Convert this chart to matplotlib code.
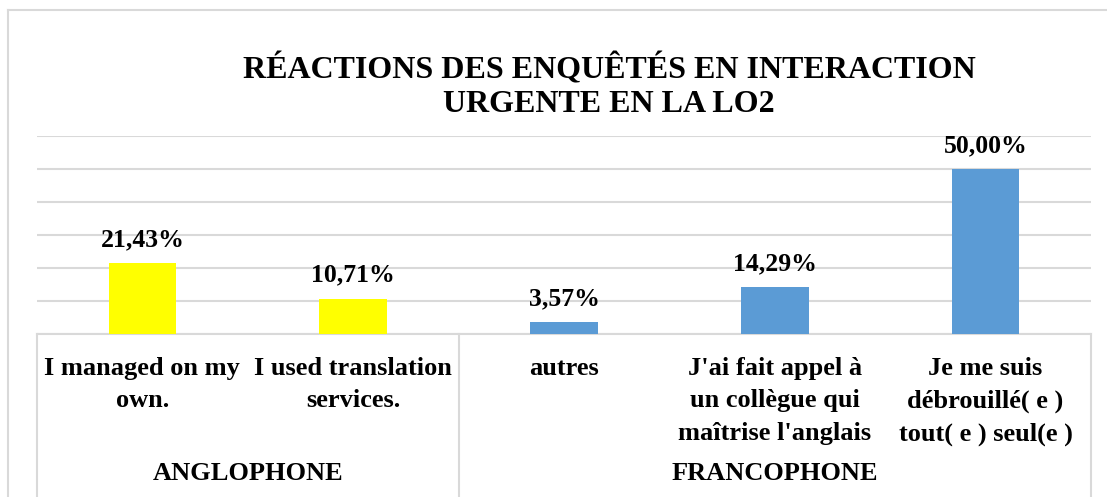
import matplotlib
matplotlib.use("Agg")
import matplotlib.pyplot as plt
from matplotlib.lines import Line2D

plt.rcParams['font.family'] = ['Liberation Serif', 'DejaVu Serif']

categories = ["I managed on my\nown.", "I used translation\nservices.", "autres",
              "J'ai fait appel à\nun collègue qui\nmaîtrise l'anglais",
              "Je me suis\ndébrouillé( e )\ntout( e ) seul(e )"]
groups = ["ANGLOPHONE", "FRANCOPHONE"]
group_sizes = [2, 3]
values = [0.2143, 0.1071, 0.0357, 0.1429, 0.5000]
value_labels = ["21,43%", "10,71%", "3,57%", "14,29%", "50,00%"]
colors = ["#FFFF00", "#FFFF00", "#5B9BD5", "#5B9BD5", "#5B9BD5"]
yticks = [0, 0.1, 0.2, 0.3, 0.4, 0.5, 0.6]

W, H = 1107, 497
fig = plt.figure(figsize=(W / 100, H / 100), dpi=100)

left_px, right_px, top_px, base_px = 37, 1091, 136, 334
ax = fig.add_axes([left_px / W, (H - base_px) / H, (right_px - left_px) / W, (base_px - top_px) / H])
ah = base_px - top_px

x = list(range(len(values)))
ax.bar(x, values, width=0.32, color=colors, zorder=3)
ax.set_xlim(-0.5, len(values) - 0.5)
ax.set_ylim(0, 0.6)
ax.set_yticks(yticks)
ax.grid(axis='y', color='#D9D9D9', linewidth=1.5, zorder=0)
ax.tick_params(left=False, bottom=False, labelleft=False, labelbottom=False)
for s in ['top', 'right', 'left']:
    ax.spines[s].set_visible(False)
ax.spines['bottom'].set_color('#D9D9D9')
ax.spines['bottom'].set_linewidth(1.5)

for xi, v, lab in zip(x, values, value_labels):
    ax.annotate(lab, (xi, v), xytext=(0, 12), textcoords='offset pixels',
                ha='center', va='bottom', fontsize=18.5, fontweight='bold')

tr = ax.get_xaxis_transform()
for xi, c in zip(x, categories):
    ax.text(xi, (base_px - 357) / ah, c, transform=tr, ha='center', va='top',
            fontsize=19, fontweight='bold', linespacing=1.52, clip_on=False)

start = 0
bounds = [-0.5]
for g, n in zip(groups, group_sizes):
    center = start + (n - 1) / 2
    ax.text(center, (base_px - 474) / ah, g, transform=tr, ha='center', va='center',
            fontsize=19, fontweight='bold', clip_on=False)
    start += n
    bounds.append(start - 0.5)

for b in bounds:
    ax.add_line(Line2D([b, b], [0, -(H - base_px + 5) / ah], transform=tr,
                       color='#D9D9D9', linewidth=1.5, clip_on=False))

fig.text(609 / W, 1 - 86 / H, "RÉACTIONS DES ENQUÊTÉS EN INTERACTION\nURGENTE EN LA LO2",
         ha='center', va='center', fontsize=23, fontweight='bold', linespacing=1.2)

# outer chart border (left and top)
fig.add_artist(Line2D([8 / W, 8 / W], [0, 1 - 10 / H], transform=fig.transFigure,
                      color='#D9D9D9', linewidth=1.5))
fig.add_artist(Line2D([8 / W, 1], [1 - 10 / H, 1 - 10 / H], transform=fig.transFigure,
                      color='#D9D9D9', linewidth=1.5))

fig.savefig("out.png", dpi=100)
